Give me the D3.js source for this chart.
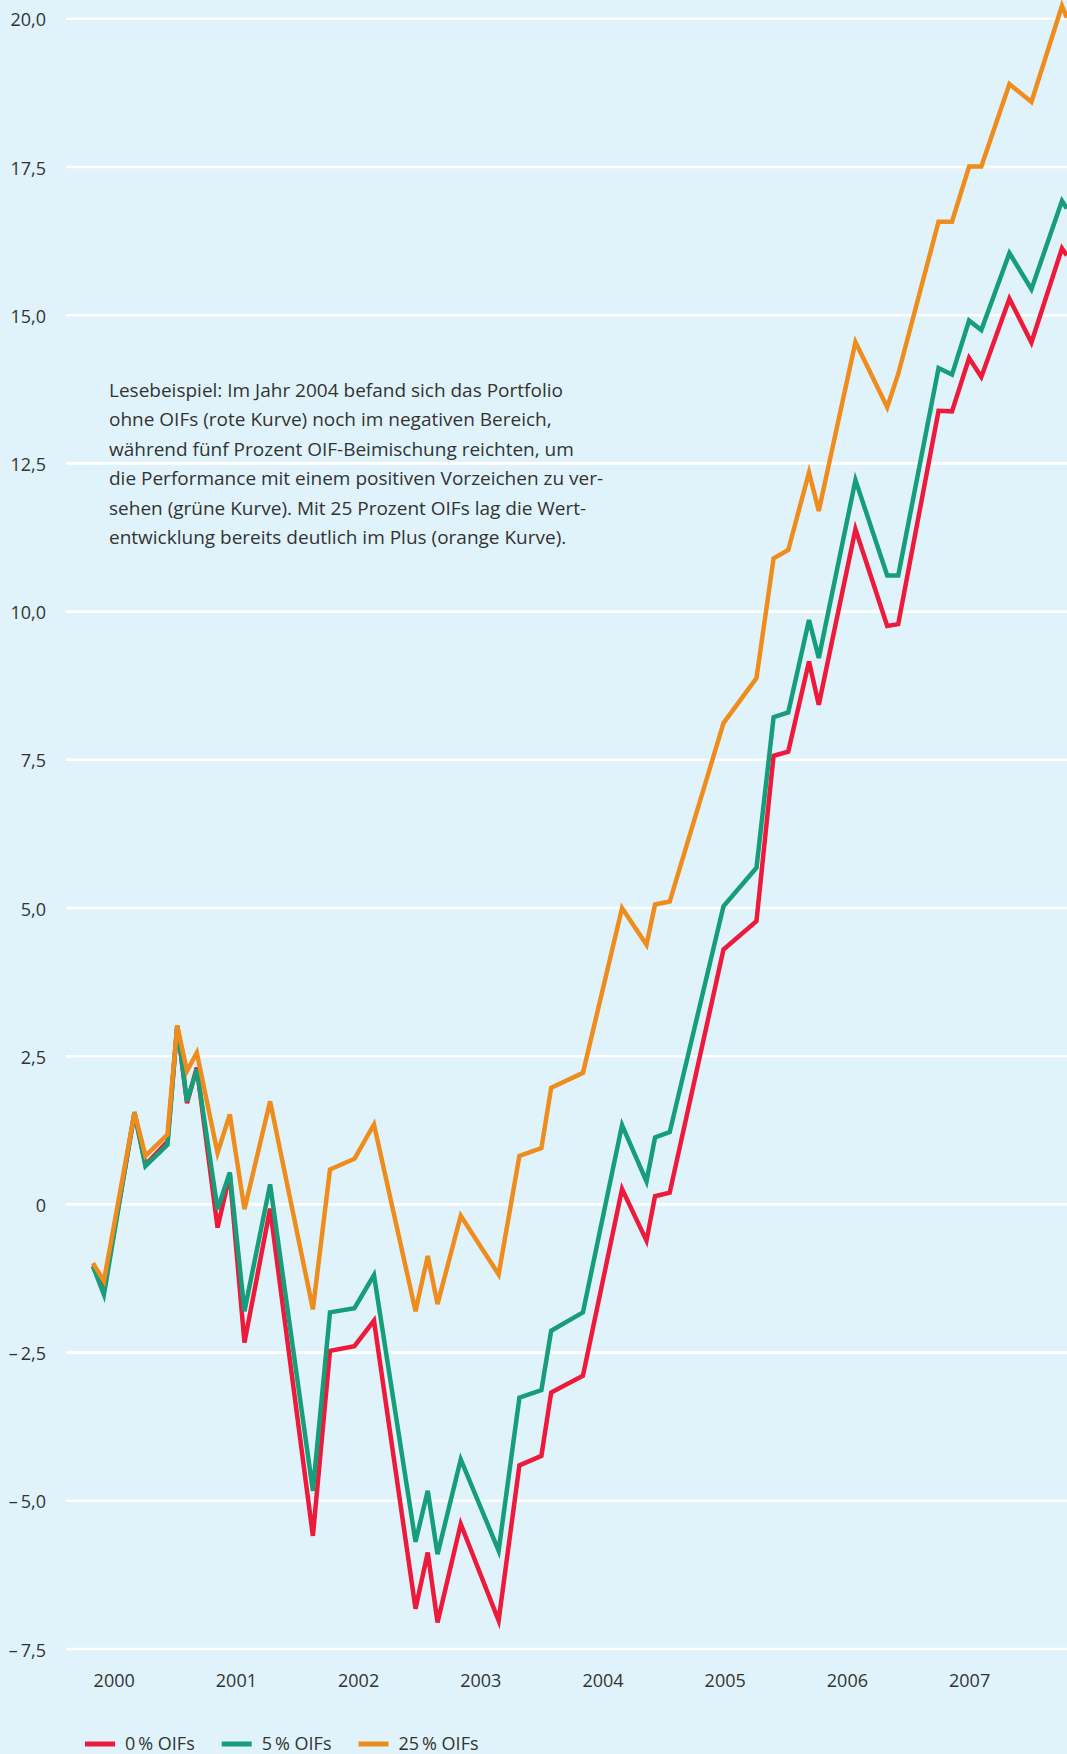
<!DOCTYPE html>
<html>
<head>
<meta charset="utf-8">
<script src="https://cdn.jsdelivr.net/npm/d3@7"></script>
<style>
  body { margin: 0; background: #e0f3fa; }
  svg { display: block; font-family: "Open Sans", "Noto Sans", sans-serif; }
</style>
</head>
<body>
<div id="chart"></div>
<script>
var width = 1067, height = 1754;

// time of each point as decimal year
let dates = [1999.83, 1999.92, 2000.17, 2000.26, 2000.44, 2000.52, 2000.60, 2000.68, 2000.85, 2000.95,
  2001.07, 2001.28, 2001.63, 2001.77, 2001.97, 2002.13, 2002.47, 2002.57, 2002.65, 2002.84,
  2003.15, 2003.32, 2003.50, 2003.58, 2003.84, 2004.16, 2004.36, 2004.43, 2004.55, 2004.99,
  2005.26, 2005.40, 2005.52, 2005.69, 2005.77, 2006.07, 2006.33, 2006.42, 2006.75, 2006.86,
  2007.00, 2007.10, 2007.33, 2007.51, 2007.76, 2007.80];

// performance in %, portfolio without OIFs
let oif0 = [-1.05, -1.45, 1.52, 0.66, 1.05, 3.0, 1.70, 2.30, -0.40, 0.50,
  -2.34, -0.08, -5.60, -2.48, -2.40, -1.97, -6.83, -5.88, -7.06, -5.40,
  -7.03, -4.41, -4.25, -3.18, -2.90, 0.25, -0.62, 0.13, 0.19, 4.29,
  4.77, 7.56, 7.63, 9.15, 8.42, 11.38, 9.75, 9.78, 13.38, 13.37,
  14.27, 13.95, 15.27, 14.53, 16.12, 16.0];

// 5 % OIFs
let oif5 = [-1.05, -1.53, 1.55, 0.64, 1.0, 3.0, 1.73, 2.27, -0.09, 0.53,
  -1.81, 0.33, -4.84, -1.83, -1.76, -1.20, -5.70, -4.84, -5.91, -4.31,
  -5.85, -3.27, -3.14, -2.14, -1.83, 1.33, 0.38, 1.12, 1.21, 5.02,
  5.67, 8.21, 8.29, 9.85, 9.21, 12.21, 10.6, 10.6, 14.1, 13.99,
  14.90, 14.74, 16.04, 15.43, 16.92, 16.79];

// 25 % OIFs
let oif25 = [-1.0, -1.30, 1.54, 0.81, 1.17, 3.01, 2.24, 2.55, 0.86, 1.51,
  -0.09, 1.73, -1.78, 0.58, 0.76, 1.34, -1.81, -0.88, -1.69, -0.20,
  -1.19, 0.81, 0.94, 1.96, 2.21, 4.99, 4.37, 5.05, 5.10, 8.11,
  8.87, 10.89, 11.03, 12.34, 11.69, 14.54, 13.44, 14.0, 16.57, 16.57,
  17.50, 17.50, 18.89, 18.59, 20.21, 20.01];

let seriesNames = ['0\u2009% OIFs', '5\u2009% OIFs', '25\u2009% OIFs'];
let seriesColors = ['#ed1a3b', '#169e7a', '#ee8d1d'];

let yTicks = [-7.5, -5, -2.5, 0, 2.5, 5, 7.5, 10, 12.5, 15, 17.5, 20];
let yTickLabels = ['\u2013\u20097,5', '\u2013\u20095,0', '\u2013\u20092,5', '0', '2,5', '5,0', '7,5', '10,0', '12,5', '15,0', '17,5', '20,0'];
let years = [2000, 2001, 2002, 2003, 2004, 2005, 2006, 2007];

let note = [
  'Lesebeispiel: Im Jahr 2004 befand sich das Portfolio',
  'ohne OIFs (rote Kurve) noch im negativen Bereich,',
  'während fünf Prozent OIF-Beimischung reichten, um',
  'die Performance mit einem positiven Vorzeichen zu ver-',
  'sehen (grüne Kurve). Mit 25 Prozent OIFs lag die Wert-',
  'entwicklung bereits deutlich im Plus (orange Kurve).'
];

let svg = d3.select('#chart')
  .append('svg')
  .attr('width', width)
  .attr('height', height)

svg.append('rect')
  .attr('width', width)
  .attr('height', height)
  .attr('fill', '#e0f3fa')

let x = d3.scaleLinear().domain([2000, 2007]).range([113.7, 969.1]);
let y = d3.scaleLinear().domain([-7.5, 20]).range([1648.5, 18.3]);

// gridlines + y labels
let gridLeft = 66;
let yAxis = d3.axisLeft(y)
  .tickValues(yTicks)
  .tickSize(-(width - gridLeft))
  .tickPadding(20)
  .tickFormat((d, i) => yTickLabels[i]);

let gy = svg.append('g')
  .attr('transform', `translate(${gridLeft},0)`)
  .call(yAxis);
gy.select('.domain').remove();
gy.selectAll('line').attr('stroke', '#fff').attr('stroke-width', 2.6);
gy.selectAll('text')
  .attr('fill', '#333')
  .attr('font-size', 18)
  .attr('font-family', '"Open Sans", sans-serif')
  .attr('dy', '0.42em');

// years
let xAxis = d3.axisBottom(x)
  .tickValues(years)
  .tickSize(0)
  .tickPadding(10)
  .tickFormat(d3.format('d'));
let gx = svg.append('g')
  .attr('transform', 'translate(0,1664)')
  .call(xAxis);
gx.select('.domain').remove();
gx.selectAll('text')
  .attr('fill', '#333')
  .attr('font-size', 18)
  .attr('font-family', '"Open Sans", sans-serif');

// lines
let series = [oif0, oif5, oif25];
let line = d3.line()
  .x((d, i) => x(dates[i]))
  .y(d => y(d));

svg.append('clipPath').attr('id', 'clip')
  .append('rect').attr('x', 0).attr('y', 0).attr('width', width).attr('height', height);

svg.append('g')
  .attr('clip-path', 'url(#clip)')
  .selectAll('path')
  .data(series)
  .enter()
  .append('path')
  .attr('d', line)
  .attr('fill', 'none')
  .attr('stroke', (d, i) => seriesColors[i])
  .attr('stroke-width', 4.5)
  .attr('stroke-linejoin', 'miter')
  .attr('stroke-miterlimit', 4)

// reading example
svg.append('text')
  .attr('x', 109)
  .attr('y', 397)
  .attr('fill', '#333')
  .attr('font-size', 19)
  .selectAll('tspan')
  .data(note)
  .enter()
  .append('tspan')
  .attr('x', 109)
  .attr('dy', (d, i) => i ? 29.4 : 0)
  .text(d => d);

// legend
let lx = 85;
seriesNames.forEach((name, i) => {
  svg.append('rect')
    .attr('x', lx)
    .attr('y', 1741.5)
    .attr('width', 30)
    .attr('height', 5)
    .attr('fill', seriesColors[i]);
  let t = svg.append('text')
    .attr('x', lx + 40)
    .attr('y', 1749.5)
    .attr('fill', '#333')
    .attr('font-size', 18)
    .text(name);
  lx += 40 + t.node().getComputedTextLength() + 27;
});
</script>
</body>
</html>
